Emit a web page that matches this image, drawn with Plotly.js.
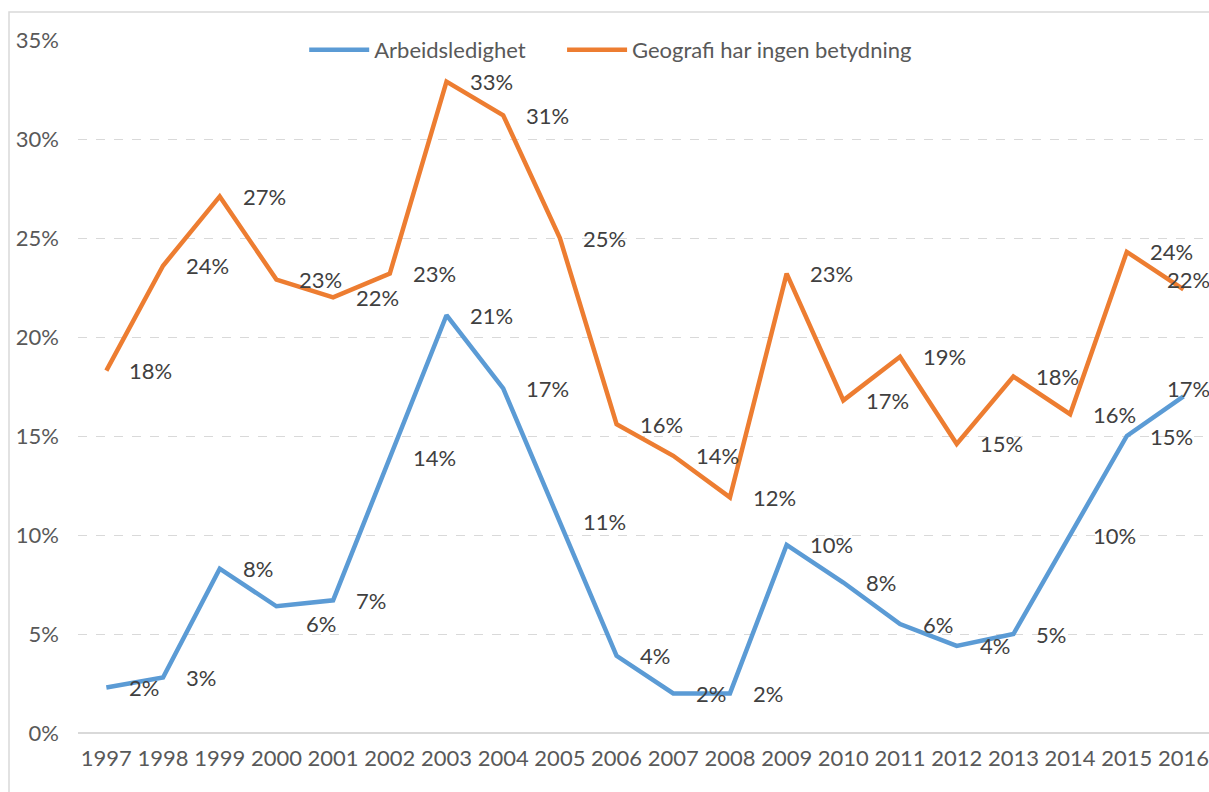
<!DOCTYPE html>
<html>
<head>
<meta charset="utf-8">
<script src="https://cdn.plot.ly/plotly-3.0.1.min.js"></script>
<style>html,body{margin:0;padding:0;background:#fff;}#chart{width:1209px;height:792px;}</style>
</head>
<body>
<div id="chart"></div>
<script>
const years = ['1997','1998','1999','2000','2001','2002','2003','2004','2005','2006','2007','2008','2009','2010','2011','2012','2013','2014','2015','2016'];
const arbeidsledighet = [2.3, 2.8, 8.3, 6.4, 6.7, 13.9, 21.1, 17.4, 10.7, 3.9, 2.0, 2.0, 9.5, 7.6, 5.5, 4.4, 5.0, 10.0, 15.0, 17.0];
const geografi = [18.3, 23.6, 27.1, 22.9, 22.0, 23.2, 32.9, 31.2, 25.0, 15.6, 14.0, 11.9, 23.2, 16.8, 19.0, 14.6, 18.0, 16.1, 24.3, 22.4];
const seriesNames = ['Arbeidsledighet', 'Geografi har ingen betydning'];
const yTicks = [0, 5, 10, 15, 20, 25, 30, 35];

const FONT = 'Lato, "Open Sans", sans-serif';
const colors = ['#5B9BD5', '#ED7D31'];
const legendIds = ['legend', 'legend2'];

const traces = [arbeidsledighet, geografi].map((vals, k) => ({
  type: 'scatter', mode: 'lines', x: years, y: vals, name: seriesNames[k],
  legend: legendIds[k],
  line: {color: colors[k], width: 4.5}, hoverinfo: 'skip'
}));

// small manual nudges of individual labels (series index, point index) -> [dx, dy]
const nudges = {'0-3': [7, -17], '0-19': [-39, 8], '1-19': [-39, 10]};

const annotations = [];
[arbeidsledighet, geografi].forEach((vals, k) => {
  vals.forEach((v, i) => {
    const n = nudges[k + '-' + i] || [0, 0];
    annotations.push({
      x: i, y: v, xref: 'x', yref: 'y', text: Math.round(v) + '%',
      showarrow: false, xanchor: 'left', yanchor: 'middle',
      xshift: 21 + n[0], yshift: n[1],
      font: {family: FONT, size: 22, color: '#404040'}
    });
  });
});

const legendStyle = (x) => ({orientation: 'h', x: x, xanchor: 'left', y: 1 - 10/693, yanchor: 'middle',
  font: {family: FONT, size: 22, color: '#595959'}, bgcolor: 'rgba(0,0,0,0)', itemwidth: 60});

const layout = {
  width: 1209, height: 792,
  margin: {l: 78, r: 0, t: 40, b: 59},
  paper_bgcolor: '#fff', plot_bgcolor: '#fff',
  font: {family: FONT, size: 22, color: '#595959'},
  showlegend: true,
  legend: legendStyle(0.2),
  legend2: legendStyle(0.428),
  xaxis: {type: 'category', range: [-0.5, 19.45], showgrid: false, zeroline: false,
          showline: false, ticks: '', tickfont: {family: FONT, size: 22, color: '#595959'},
          ticklabelstandoff: 10, fixedrange: true},
  yaxis: {range: [0, 35], tickvals: yTicks, ticktext: yTicks.map(v => v + '%'),
          showgrid: true, gridcolor: '#d9d9d9', griddash: 'dash', gridwidth: 1.3,
          zeroline: true, zerolinecolor: '#d9d9d9', zerolinewidth: 2,
          showline: false, ticks: '', tickfont: {family: FONT, size: 22, color: '#595959'},
          ticklabelstandoff: 18, fixedrange: true},
  shapes: [{type: 'rect', xref: 'paper', yref: 'paper',
            x0: -69/1131, x1: 1.05, y0: -0.12, y1: 1 + 28/693,
            line: {color: '#d9d9d9', width: 1.5}, fillcolor: 'rgba(0,0,0,0)', layer: 'below'}],
  annotations: annotations
};

Plotly.newPlot('chart', traces, layout, {displayModeBar: false});
</script>
</body>
</html>
